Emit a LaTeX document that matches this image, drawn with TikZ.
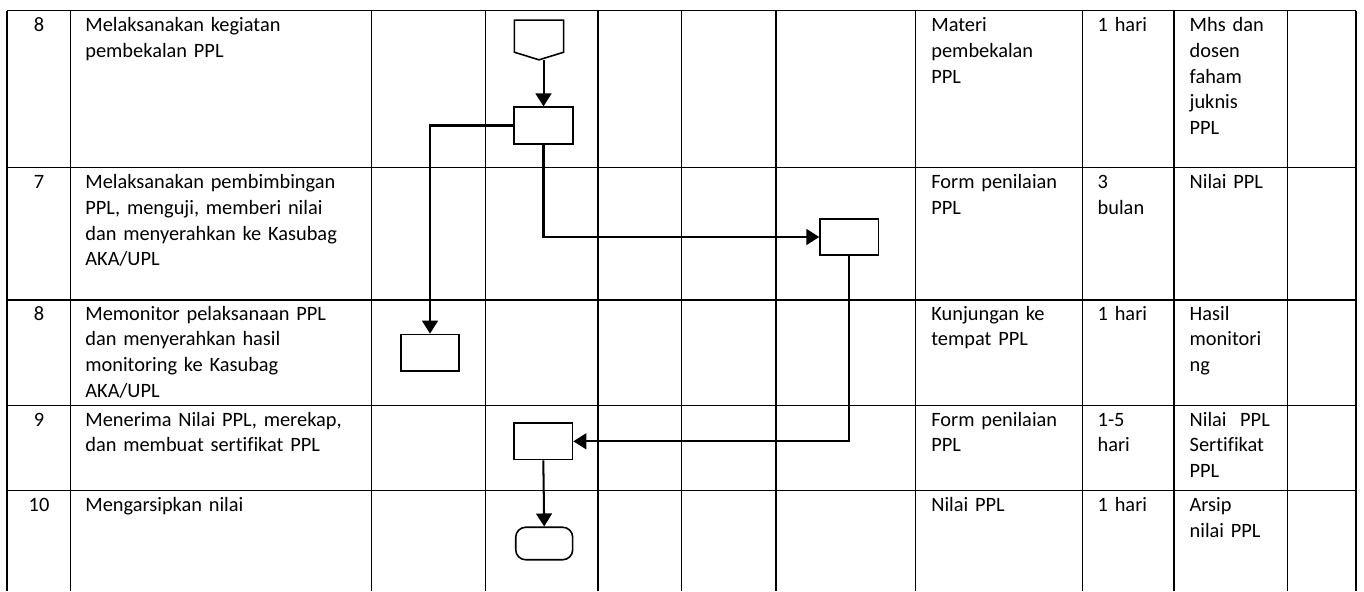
\documentclass[tikz,border=0pt]{standalone}
\usepackage{fontspec}
\setmainfont{Carlito}[Ligatures=NoCommon]
\usetikzlibrary{calc}
\usetikzlibrary{arrows.meta}

\tikzset{
  gridline/.style={line width=0.6pt},
  flow/.style={line width=1.15pt, -{Triangle[length=7.4pt,width=9pt]}},
  proc/.style={draw, line width=0.9pt, minimum width=1.17cm, minimum height=0.73cm, inner sep=0pt},
  term/.style={draw, line width=0.9pt, rounded corners=0.2cm, minimum width=1.14cm, minimum height=0.65cm, inner sep=0pt},
  celltext/.style={anchor=base west, inner sep=0pt, text width=#1, align=left},
  numtext/.style={anchor=base, inner sep=0pt}
}

\begin{document}
\begin{tikzpicture}[x=0.02cm, y=-0.02cm, font=\fontsize{11.6}{14.6}\selectfont]
        \useasboundingbox (0,0) rectangle (1364,591);

        % column borders
        \def\cA{7}    \def\cB{70.7}  \def\cC{371.7} \def\cD{485.3}
        \def\cE{598}  \def\cF{681.3} \def\cG{776}   \def\cH{915.7}
        \def\cI{1082.7} \def\cJ{1174} \def\cK{1287.3} \def\cL{1356}
        % row borders
        \def\rA{10.7} \def\rB{167.7} \def\rC{300} \def\rD{405.7} \def\rE{490.7}
        \def\rEnd{591}

        % Draw the table
        \draw[gridline] (\cA,\rA) -- (\cL,\rA) (\cA,\rB) -- (\cL,\rB)
            (\cA,\rC) -- (\cL,\rC) (\cA,\rD) -- (\cL,\rD) (\cA,\rE) -- (\cL,\rE);
        \draw[gridline] (\cA,\rA) -- (\cA,\rEnd) (\cB,\rA) -- (\cB,\rEnd)
            (\cC,\rA) -- (\cC,\rEnd) (\cD,\rA) -- (\cD,\rEnd)
            (\cE,\rA) -- (\cE,\rEnd) (\cF,\rA) -- (\cF,\rEnd)
            (\cG,\rA) -- (\cG,\rEnd) (\cH,\rA) -- (\cH,\rEnd)
            (\cI,\rA) -- (\cI,\rEnd) (\cJ,\rA) -- (\cJ,\rEnd)
            (\cK,\rA) -- (\cK,\rEnd) (\cL,\rA) -- (\cL,\rEnd);

        % Row 1
        \node[numtext] (n1) at (39,\rA+21.3) {8};
        \node[celltext=5.8cm] (k1) at (85,\rA+21.3) {Melaksanakan kegiatan\\pembekalan PPL};
        \node[celltext=3cm] (m1) at (931,\rA+21.3) {Materi\\pembekalan\\PPL};
        \node[celltext=1.6cm] (w1) at (1097.3,\rA+21.3) {1 hari};
        \node[celltext=2cm] (o1) at (1189.3,\rA+21.3) {Mhs dan\\dosen\\faham\\juknis\\PPL};

        % Row 2
        \node[numtext] (n2) at (39,\rB+21.3) {7};
        \node[celltext=5.8cm] (k2) at (85,\rB+21.3) {Melaksanakan pembimbingan\\PPL, menguji, memberi nilai\\dan menyerahkan ke Kasubag\\AKA/UPL};
        \node[celltext=3cm] (m2) at (931,\rB+21.3) {Form penilaian\\PPL};
        \node[celltext=1.6cm] (w2) at (1097.3,\rB+21.3) {3\\bulan};
        \node[celltext=2cm] (o2) at (1189.3,\rB+21.3) {Nilai PPL};

        % Row 3
        \node[numtext] (n3) at (39,\rC+20.3) {8};
        \node[celltext=5.8cm] (k3) at (85,\rC+20.3) {Memonitor pelaksanaan PPL\\dan menyerahkan hasil\\monitoring ke Kasubag\\AKA/UPL};
        \node[celltext=3cm] (m3) at (931,\rC+20.3) {Kunjungan ke\\tempat PPL};
        \node[celltext=1.6cm] (w3) at (1097.3,\rC+20.3) {1 hari};
        \node[celltext=2cm] (o3) at (1189.3,\rC+20.3) {Hasil\\monitori\\ng};

        % Row 4
        \node[numtext] (n4) at (39,\rD+20.3) {9};
        \node[celltext=5.8cm] (k4) at (85,\rD+20.3) {Menerima Nilai PPL, merekap,\\dan membuat sertifikat PPL};
        \node[celltext=3cm] (m4) at (931,\rD+20.3) {Form penilaian\\PPL};
        \node[celltext=1.6cm] (w4) at (1097.3,\rD+20.3) {1-5\\hari};
        \node[celltext=2cm] (o4) at (1189.3,\rD+20.3) {Nilai~~PPL\\Sertifikat\\PPL};

        % Row 5
        \node[numtext] (n5) at (39,\rE+21) {10};
        \node[celltext=5.8cm] (k5) at (85,\rE+21) {Mengarsipkan nilai};
        \node[celltext=3cm] (m5) at (931,\rE+21) {Nilai PPL};
        \node[celltext=1.6cm] (w5) at (1097.3,\rE+21) {1 hari};
        \node[celltext=2cm] (o5) at (1189.3,\rE+21) {Arsip\\nilai PPL};

        % Flow symbols
        \node[minimum width=0.97cm, minimum height=0.78cm, inner sep=0pt] (start) at (539,40) {};
        \draw[line width=0.9pt] (start.north west) -- (start.north east)
            -- ($(start.south east)+(0,-7.6)$) -- (start.south)
            -- ($(start.south west)+(0,-7.6)$) -- cycle;
        \node[proc] (pA) at (543.5,125.5) {};
        \node[proc] (pB) at (430,352.7) {};
        \node[proc] (pC) at (849.3,237) {};
        \node[proc] (pD) at (543.3,441.3) {};
        \node[term] (stop) at (544.2,543.5) {};

        % Draw connectors
        \draw[flow] (start.south -| pA) -- (pA.north);
        \draw[flow] (pA.west) -| (pB.north);
        \draw[flow, line width=1.4pt] (pA.south) |- (pC.west);
        \draw[flow] (pC.south) |- (pD.east);
        \draw[flow] (pD.south) -- (stop.north);

\end{tikzpicture}
\end{document}
